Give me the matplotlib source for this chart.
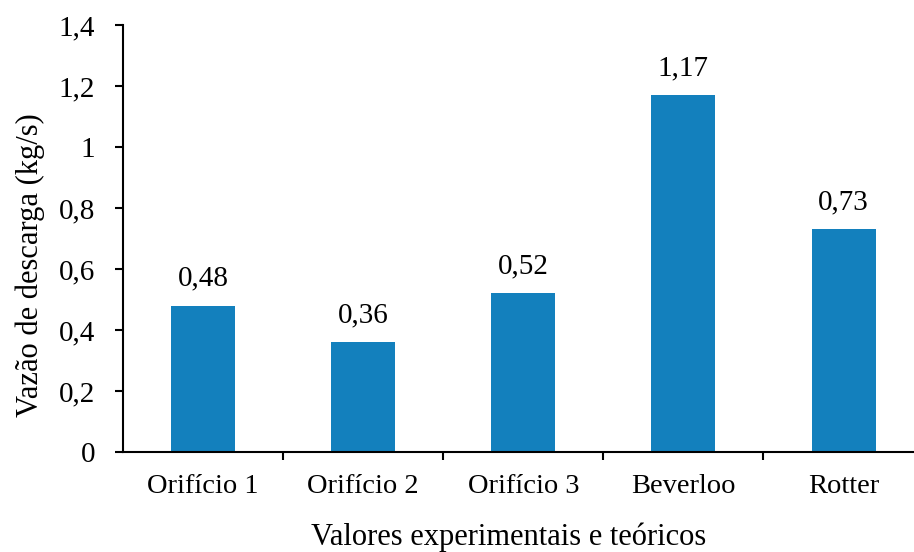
import matplotlib
matplotlib.use("Agg")
import matplotlib.pyplot as plt
from matplotlib.ticker import FixedLocator

# Dados
categorias = ["Orifício 1", "Orifício 2", "Orifício 3", "Beverloo", "Rotter"]
vazoes = [0.48, 0.36, 0.52, 1.17, 0.73]
yticks = [0, 0.2, 0.4, 0.6, 0.8, 1.0, 1.2, 1.4]
ytick_labels = ["0", "0,2", "0,4", "0,6", "0,8", "1", "1,2", "1,4"]

plt.rcParams['font.family'] = ['Liberation Serif', 'DejaVu Serif']

fig = plt.figure(figsize=(9.14, 5.52), dpi=100)
ax = fig.add_axes([0.1346, 0.181, 0.8654, 0.7737])

x = list(range(len(categorias)))
ax.bar(x, vazoes, width=0.4, color='#1380bd')

# etiquetas de valor sobre as barras
for xi, v in zip(x, vazoes):
    ax.annotate(f"{v:.2f}".replace(".", ","), (xi, v), xytext=(0, 10),
                textcoords='offset points', ha='center', va='bottom', fontsize=21)

ax.set_xlim(-0.5, 4.44)
ax.set_ylim(0, 1.4)
ax.set_yticks(yticks)
ax.set_yticklabels(ytick_labels)
ax.set_xticks(x)
ax.set_xticklabels(categorias)
ax.xaxis.set_minor_locator(FixedLocator([0.5, 1.5, 2.5, 3.5]))

ax.tick_params(axis='x', which='major', length=0, pad=16, labelsize=20.5)
ax.tick_params(axis='x', which='minor', length=6, width=1.5, direction='out')
ax.tick_params(axis='y', length=6, width=1.5, direction='out', pad=14, labelsize=21)

for s in ['top', 'right']:
    ax.spines[s].set_visible(False)
for s in ['left', 'bottom']:
    ax.spines[s].set_linewidth(1.5)

ax.set_xlabel("Valores experimentais e teóricos", fontsize=22, labelpad=17)
ax.xaxis.label.set_x(0.488)
ax.set_ylabel("Vazão de descarga (kg/s)", fontsize=22)
ax.yaxis.set_label_coords(-0.099, 0.438)

fig.savefig("out.png", dpi=100)
